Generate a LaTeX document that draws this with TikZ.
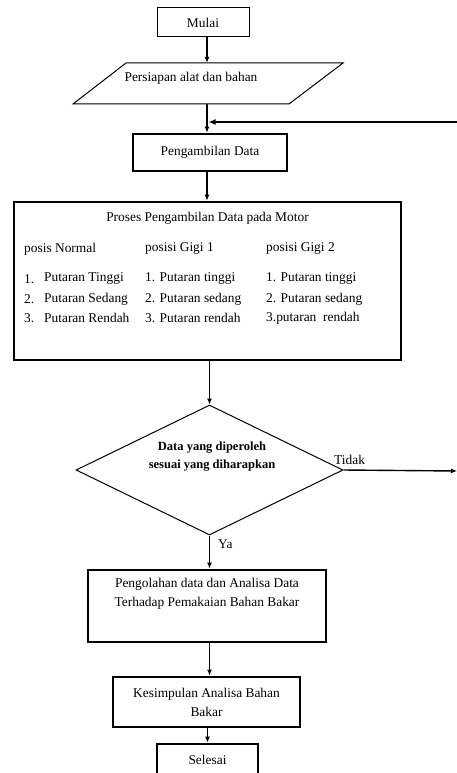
\documentclass[tikz,border=0pt]{standalone}
\usepackage{fontspec}
\setmainfont{Liberation Serif}
\usetikzlibrary{arrows.meta,shapes.geometric}
\begin{document}
\begin{tikzpicture}[x=1pt,y=-1pt,
  every node/.style={font=\fontsize{13.4}{19}\selectfont},
  thinbox/.style={draw,line width=1pt,inner sep=0},
  thickbox/.style={draw,line width=2.8pt,inner sep=0},
  txt/.style={inner sep=0},
  ltxt/.style={inner sep=0,anchor=west},
  arr/.style={line width=1.1pt,-{Latex[length=6pt,width=5pt]}},
  fbline/.style={line width=2pt,-{Latex[length=7pt,width=6pt]}}
]
\useasboundingbox (0,0) rectangle (457,773);
\begin{scope}
\clip (0,0) rectangle (457,773);
% Mulai
\node[thinbox, minimum width=92pt, minimum height=29pt] (mulai) at (203,22.5) {Mulai};
% Persiapan (parallelogram)
\node[inner sep=0, minimum height=41pt, minimum width=1pt] (persiapan) at (207,83.5) {};
\draw[line width=1pt] (73,104) -- (126,63) -- (343,63) -- (289,104) -- cycle;
\node[txt] (persiapantext) at (191,78) {Persiapan alat dan bahan};
% Pengambilan Data
\node[thickbox, minimum width=154pt, minimum height=37pt] (ambil) at (210,152.5) {Pengambilan Data};
% Big process box
\node[thickbox, minimum width=387pt, minimum height=158pt] (proses) at (207.5,281) {};
\node[txt] (judul) at (207.5,218) {Proses Pengambilan Data pada Motor};
\node[ltxt] (h1) at (24,249) {posis Normal};
\node[ltxt] (h2) at (145,249) {posisi Gigi 1};
\node[ltxt] (h3) at (266,249) {posisi Gigi 2};
\node[ltxt] (a1n) at (24,279) {1.};
\node[ltxt] (a2n) at (24,299) {2.};
\node[ltxt] (a3n) at (24,318) {3.};
\node[ltxt] (a1) at (44,279) {Putaran Tinggi};
\node[ltxt] (a2) at (44,299) {Putaran Sedang};
\node[ltxt] (a3) at (44,318) {Putaran Rendah};
\node[ltxt] (b1) at (145,279) {1. Putaran tinggi};
\node[ltxt] (b2) at (145,299) {2. Putaran sedang};
\node[ltxt] (b3) at (145,318) {3. Putaran rendah};
\node[ltxt] (c1) at (266,279) {1. Putaran tinggi};
\node[ltxt] (c2) at (266,299) {2. Putaran sedang};
\node[ltxt] (c3) at (266,318) {3.putaran~ rendah};
% Decision
\node[diamond, draw, line width=1pt, inner sep=0, minimum width=267pt, minimum height=130pt] (cek) at (209.5,470) {};
\node[txt, align=center, font=\fontsize{12.5}{18}\selectfont\bfseries] (cektext) at (212,457) {Data yang diperoleh\\sesuai yang diharapkan};
\node[txt, anchor=south west] (tidak) at (334,465) {Tidak};
\node[txt, anchor=west] (ya) at (218,544) {Ya};
% Pengolahan
\node[thickbox, minimum width=238pt, minimum height=72pt] (olah) at (207,606) {};
\node[txt, align=center] (olahtext) at (207,593.5) {Pengolahan data dan Analisa Data\\Terhadap Pemakaian Bahan Bakar};
% Kesimpulan
\node[thickbox, minimum width=187pt, minimum height=50pt, align=center] (simpul) at (206.5,702) {Kesimpulan Analisa Bahan\\Bakar};
% Selesai
\node[thickbox, minimum width=101pt, minimum height=31pt] (selesai) at (207.5,759.5) {Selesai};
% free ends
\coordinate (fbstart) at (458,122);
\coordinate (fbtip) at (208.5,122);
\coordinate (tidakend) at (457,471);
% connectors
\draw[arr] (persiapan.north |- mulai.south) -- (persiapan.north);
\draw[arr] (persiapan.south) -- (persiapan.south |- ambil.north);
\draw[fbline] (fbstart) -- (fbtip);
\draw[arr] (ambil.south -| persiapan.south) -- (persiapan.south |- proses.north);
\draw[arr] (cek.north |- proses.south) -- (cek.north);
\draw[line width=1.4pt,-{Latex[length=6pt,width=5pt]}] (cek.east) -- (tidakend);
\draw[arr] (cek.south) -- (cek.south |- olah.north);
\draw[arr] (olah.south -| cek.south) -- (cek.south |- simpul.north);
\draw[arr] (simpul.south -| selesai.north) -- (selesai.north);
\end{scope}
\end{tikzpicture}
\end{document}
